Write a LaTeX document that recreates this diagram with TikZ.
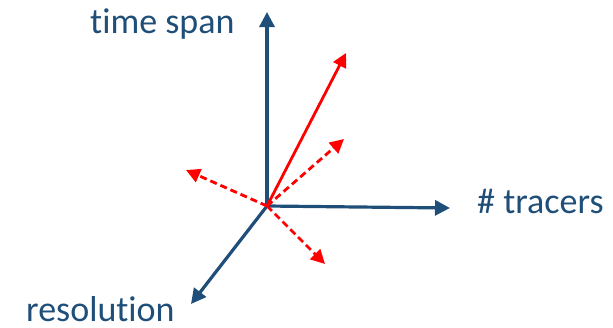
\documentclass[tikz,border=0pt]{standalone}
\usepackage{fontspec}
\setmainfont{Carlito}[Ligatures={NoCommon,NoDiscretionary,NoRare}]
\usetikzlibrary{arrows.meta}
\definecolor{axblue}{HTML}{1F4E79}
\begin{document}
\begin{tikzpicture}[x=1pt,y=-1pt,
  axis/.style={draw=axblue, line width=3.2pt, -{Triangle[length=15pt,width=15pt]}},
  redsolid/.style={draw=red, line width=2.8pt, -{Triangle[length=14pt,width=14pt]}},
  reddash/.style={redsolid, dash pattern=on 7pt off 4pt},
  lbl/.style={text=axblue, font=\fontsize{36}{42}\selectfont, inner sep=0pt, anchor=base west}]
\useasboundingbox (0,0) rectangle (613,327);
\coordinate (o) at (267,206);
\coordinate (up) at (267,12);
\coordinate (rt) at (450,208);
\coordinate (dl) at (191,304);
\coordinate (r1) at (346,53);
\coordinate (r2) at (344,139);
\coordinate (r3) at (186,170);
\coordinate (r4) at (325,264);
\draw[axis] (o) -- (up);
\draw[axis] (o) -- (rt);
\draw[axis] (o) -- (dl);
\draw[redsolid] (o) -- (r1);
\draw[reddash] (o) -- (r2);
\draw[reddash] (o) -- (r3);
\draw[reddash] (o) -- (r4);
\node[lbl] (t) at (90,33) {time span};
\node[lbl] (tr) at (477,213) {\# tracers};
\node[lbl] (res) at (26,321) {resolution};
\end{tikzpicture}
\end{document}
